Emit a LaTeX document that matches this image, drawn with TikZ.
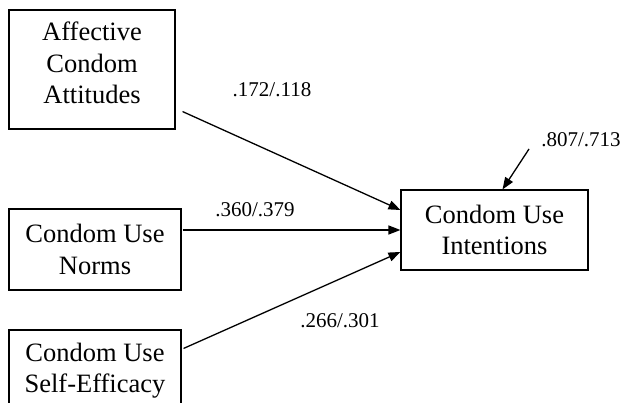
\documentclass[tikz,border=0pt]{standalone}
\usepackage{fontspec}
\setmainfont{Liberation Serif}
\usetikzlibrary{arrows.meta}

\begin{document}
\begin{tikzpicture}[x=1pt, y=-1pt,
  box/.style={draw, line width=1.1pt, rectangle, inner sep=0pt, align=center,
              font=\fontsize{26.5}{31.5}\selectfont},
  boxtext/.style={inner sep=0pt, align=center, font=\fontsize{26.5}{31.5}\selectfont},
  coef/.style={inner sep=0pt, font=\fontsize{21}{24}\selectfont, anchor=base},
  path/.style={line width=1.3pt, -{Triangle[length=12pt, width=9pt]}}]

  % page frame
  \useasboundingbox[fill=white] (0,0) rectangle (623,403);

  % exogenous predictors
  \node[box, minimum width=166pt, minimum height=119pt] (A) at (92,69.5) {};
  \node[boxtext, anchor=north] (Atext) at (92,22) {Affective\\Condom\\Attitudes};

  \node[box, minimum width=172pt, minimum height=81pt] (N) at (95,249.5)
       {Condom Use\\Norms};

  \node[box, minimum width=172pt, minimum height=81pt] (S) at (95,370.5)
       {Condom Use\\Self-Efficacy};

  % outcome
  \node[box, minimum width=187pt, minimum height=80pt] (I) at (494.5,230)
       {Condom Use\\Intentions};

  % disturbance term
  \coordinate (E) at (529,149);

  % structural paths
  \draw[path] ([shift={(7,-18)}]A.south east) -- ([shift={(0,-20)}]I.west);
  \draw[path] ([shift={(1,-19.5)}]N.east) -- (I.west);
  \draw[path] ([shift={(2,19)}]S.north east) -- ([shift={(0,22)}]I.west);
  \draw[path] (E) -- ([shift={(8,0)}]I.north);

  % path coefficients
  \node[coef] (cA) at (272,96.7) {.172/.118};
  \node[coef] (cN) at (255,217) {.360/.379};
  \node[coef] (cS) at (340,327) {.266/.301};
  \node[coef] (cE) at (581,147) {.807/.713};
\end{tikzpicture}
\end{document}
